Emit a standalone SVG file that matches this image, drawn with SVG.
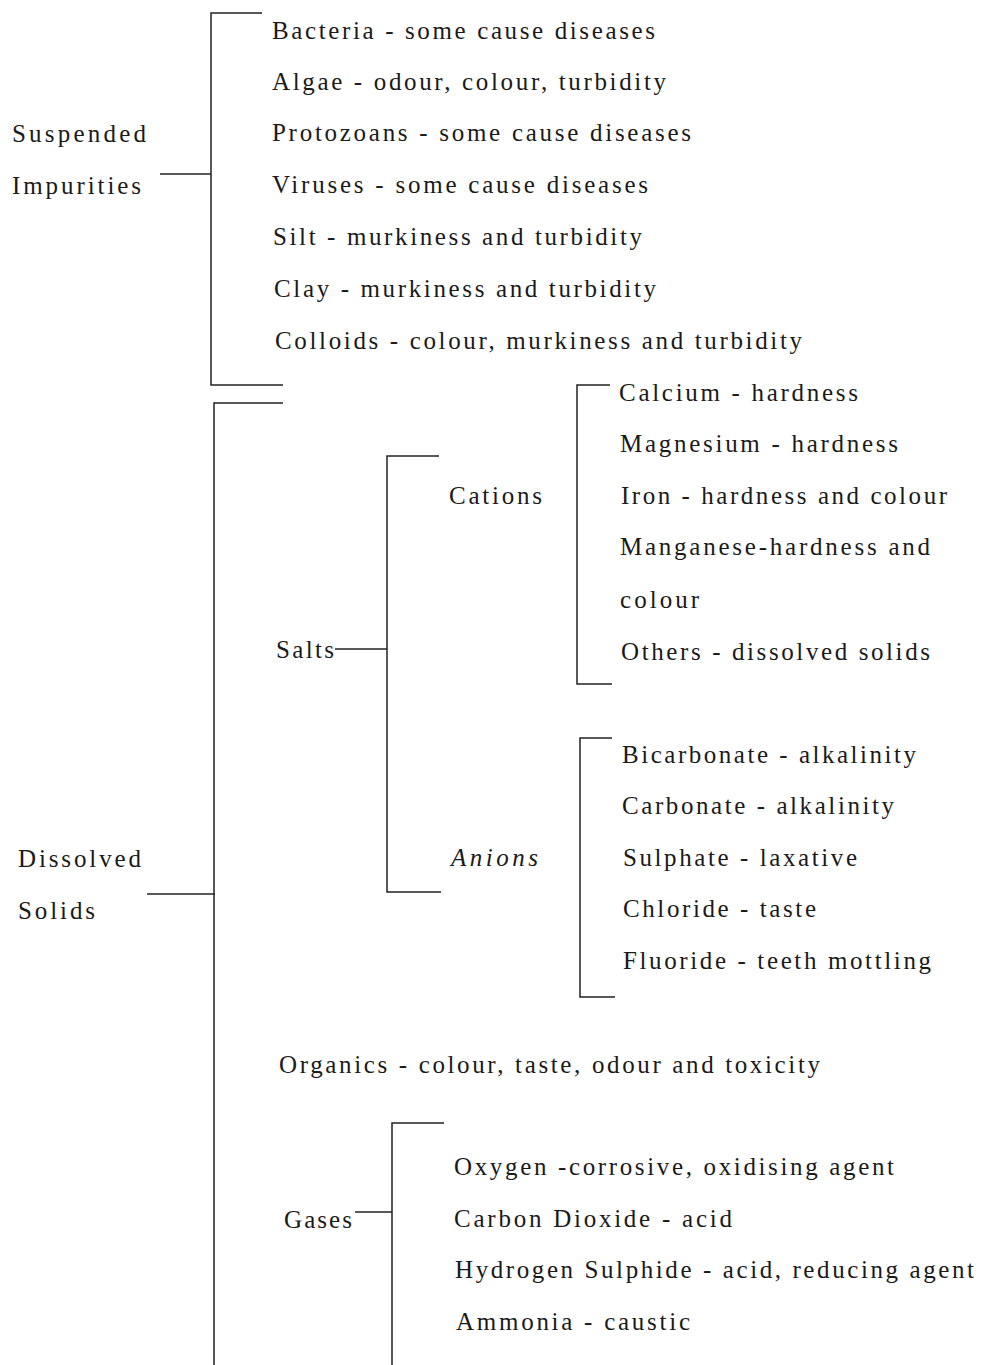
<svg xmlns="http://www.w3.org/2000/svg" width="981" height="1365" viewBox="0 0 981 1365">
<style>
text{font-family:"Liberation Serif","Times New Roman",serif;font-size:25px;fill:#1a1a1a}
.it{font-style:italic}
.ln{fill:none;stroke:#222;stroke-width:1.5}
</style>
<rect width="981" height="1365" fill="#fff"/>
<g id="connectors">
<path class="ln" d="M262,13 H211 V385 H283"/>
<path class="ln" d="M160,174 H211"/>
<path class="ln" d="M283,403 H214 V1365"/>
<path class="ln" d="M147,894 H215"/>
<path class="ln" d="M439,456 H387 V892 H441"/>
<path class="ln" d="M335,649 H387"/>
<path class="ln" d="M610,385 H577 V684 H612"/>
<path class="ln" d="M612,738 H580 V997 H615"/>
<path class="ln" d="M444,1123 H392 V1365"/>
<path class="ln" d="M355,1212 H392"/>
</g>
<g id="suspended"><text x="12" y="142" textLength="134" lengthAdjust="spacing">Suspended</text><text x="12" y="194" textLength="129" lengthAdjust="spacing">Impurities</text></g>
<g id="suspended-items">
<text x="272" y="39" textLength="383" lengthAdjust="spacing">Bacteria - some cause diseases</text>
<text x="272" y="90" textLength="394" lengthAdjust="spacing">Algae - odour, colour, turbidity</text>
<text x="272" y="141" textLength="419" lengthAdjust="spacing">Protozoans - some cause diseases</text>
<text x="272" y="193" textLength="376" lengthAdjust="spacing">Viruses - some cause diseases</text>
<text x="273" y="245" textLength="369" lengthAdjust="spacing">Silt - murkiness and turbidity</text>
<text x="274" y="297" textLength="382" lengthAdjust="spacing">Clay - murkiness and turbidity</text>
<text x="275" y="349" textLength="527" lengthAdjust="spacing">Colloids - colour, murkiness and turbidity</text>
</g>
<g id="dissolved"><text x="18" y="867" textLength="123" lengthAdjust="spacing">Dissolved</text><text x="18" y="919" textLength="77" lengthAdjust="spacing">Solids</text></g>
<g id="salts"><text x="276" y="658" textLength="58" lengthAdjust="spacing">Salts</text></g>
<g id="cations"><text x="449" y="504" textLength="93" lengthAdjust="spacing">Cations</text></g>
<g id="cation-items">
<text x="619" y="401" textLength="239" lengthAdjust="spacing">Calcium - hardness</text>
<text x="620" y="452" textLength="278" lengthAdjust="spacing">Magnesium - hardness</text>
<text x="621" y="504" textLength="326" lengthAdjust="spacing">Iron - hardness and colour</text>
<text x="620" y="555" textLength="310" lengthAdjust="spacing">Manganese-hardness and</text>
<text x="620" y="608" textLength="79" lengthAdjust="spacing">colour</text>
<text x="621" y="660" textLength="309" lengthAdjust="spacing">Others - dissolved solids</text>
</g>
<g id="anions"><text class="it" x="451" y="866" textLength="87" lengthAdjust="spacing">Anions</text></g>
<g id="anion-items">
<text x="622" y="763" textLength="294" lengthAdjust="spacing">Bicarbonate - alkalinity</text>
<text x="622" y="814" textLength="272" lengthAdjust="spacing">Carbonate - alkalinity</text>
<text x="623" y="866" textLength="234" lengthAdjust="spacing">Sulphate - laxative</text>
<text x="623" y="917" textLength="193" lengthAdjust="spacing">Chloride - taste</text>
<text x="623" y="969" textLength="308" lengthAdjust="spacing">Fluoride - teeth mottling</text>
</g>
<g id="organics"><text x="279" y="1073" textLength="541" lengthAdjust="spacing">Organics - colour, taste, odour and toxicity</text></g>
<g id="gases"><text x="284" y="1228" textLength="68" lengthAdjust="spacing">Gases</text></g>
<g id="gas-items">
<text x="454" y="1175" textLength="440" lengthAdjust="spacing">Oxygen -corrosive, oxidising agent</text>
<text x="454" y="1227" textLength="278" lengthAdjust="spacing">Carbon Dioxide - acid</text>
<text x="455" y="1278" textLength="519" lengthAdjust="spacing">Hydrogen Sulphide - acid, reducing agent</text>
<text x="456" y="1330" textLength="234" lengthAdjust="spacing">Ammonia - caustic</text>
</g>
</svg>
